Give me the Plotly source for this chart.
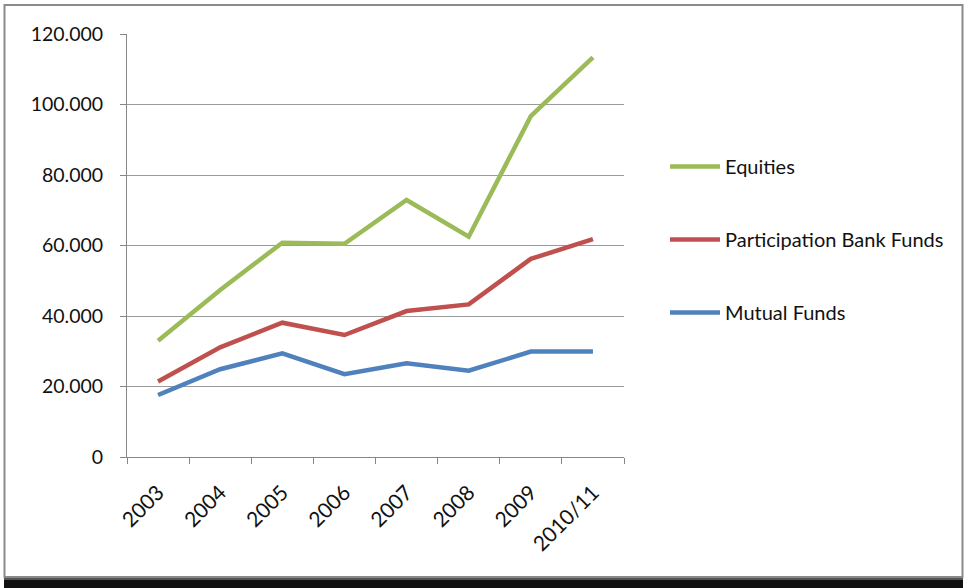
import plotly.graph_objects as go

categories = ["2003", "2004", "2005", "2006", "2007", "2008", "2009", "2010/11"]
equities = [33.0, 47.4, 60.8, 60.5, 72.9, 62.5, 96.7, 113.4]
participation = [21.4, 31.1, 38.1, 34.6, 41.4, 43.3, 56.2, 61.8]
mutual = [17.6, 24.9, 29.4, 23.5, 26.6, 24.5, 29.9, 29.9]
y_ticks = [0, 20, 40, 60, 80, 100, 120]
y_tick_labels = ["0", "20.000", "40.000", "60.000", "80.000", "100.000", "120.000"]

series = [
    ("Equities", equities, "#9BBB59"),
    ("Participation Bank Funds", participation, "#C0504D"),
    ("Mutual Funds", mutual, "#4F81BD"),
]

W, H = 965, 588
L, R, T, B = 127, 624, 34, 457

def px(x):
    return (x - L) / (R - L)

def py(y):
    return (B - y) / (B - T)

fig = go.Figure()
for i, (name, vals, col) in enumerate(series):
    fig.add_trace(go.Scatter(
        x=categories, y=vals, name=name, mode="lines",
        line=dict(color=col, width=4.5), legendgroup=f"g{i}",
    ))

FONT = "Lato, Calibri, sans-serif"
axis_col = "#868686"

shapes = []
# shadow at bottom
shapes.append(dict(type="rect", xref="paper", yref="paper", x0=px(4), x1=px(963), y0=py(588), y1=py(578),
                   fillcolor="#111111", line=dict(width=0), layer="below"))
shapes.append(dict(type="rect", xref="paper", yref="paper", x0=px(4), x1=px(963), y0=py(580), y1=py(577),
                   fillcolor="#555555", line=dict(width=0), layer="below"))
# frame
shapes.append(dict(type="rect", xref="paper", yref="paper", x0=px(4.5), x1=px(962.5), y0=py(577), y1=py(5),
                   fillcolor="rgba(0,0,0,0)", line=dict(color="#8a8a8a", width=2), layer="below"))

fig.update_layout(
    width=W, height=H,
    margin=dict(l=L, r=W - R, t=T, b=H - B),
    paper_bgcolor="white", plot_bgcolor="white",
    font=dict(family=FONT, size=18, color="#1a1a1a"),
    shapes=shapes,
    showlegend=True,
    legend=dict(
        x=px(665), xanchor="left", y=py(147), yanchor="top",
        traceorder="grouped", tracegroupgap=44,
        font=dict(family=FONT, size=20, color="#111111"),
        bgcolor="rgba(0,0,0,0)", itemwidth=50,
    ),
    xaxis=dict(
        type="category", tickangle=-45, showgrid=False, showline=True,
        linecolor=axis_col, linewidth=1, ticks="outside", ticklen=6, tickcolor=axis_col,
        tickson="boundaries", range=[-0.5, 7.5],
        tickfont=dict(family=FONT, size=21, color="#111111"),
        ticklabelstandoff=14,
    ),
    yaxis=dict(
        range=[0, 120], tickvals=y_ticks, ticktext=y_tick_labels,
        showgrid=True, gridcolor="#9a9a9a", gridwidth=1,
        showline=True, linecolor=axis_col, linewidth=1,
        ticks="outside", ticklen=6, tickcolor=axis_col, zeroline=False,
        tickfont=dict(family=FONT, size=19.5, color="#111111"),
        ticklabelstandoff=13,
    ),
)

fig.write_html("out.html")
